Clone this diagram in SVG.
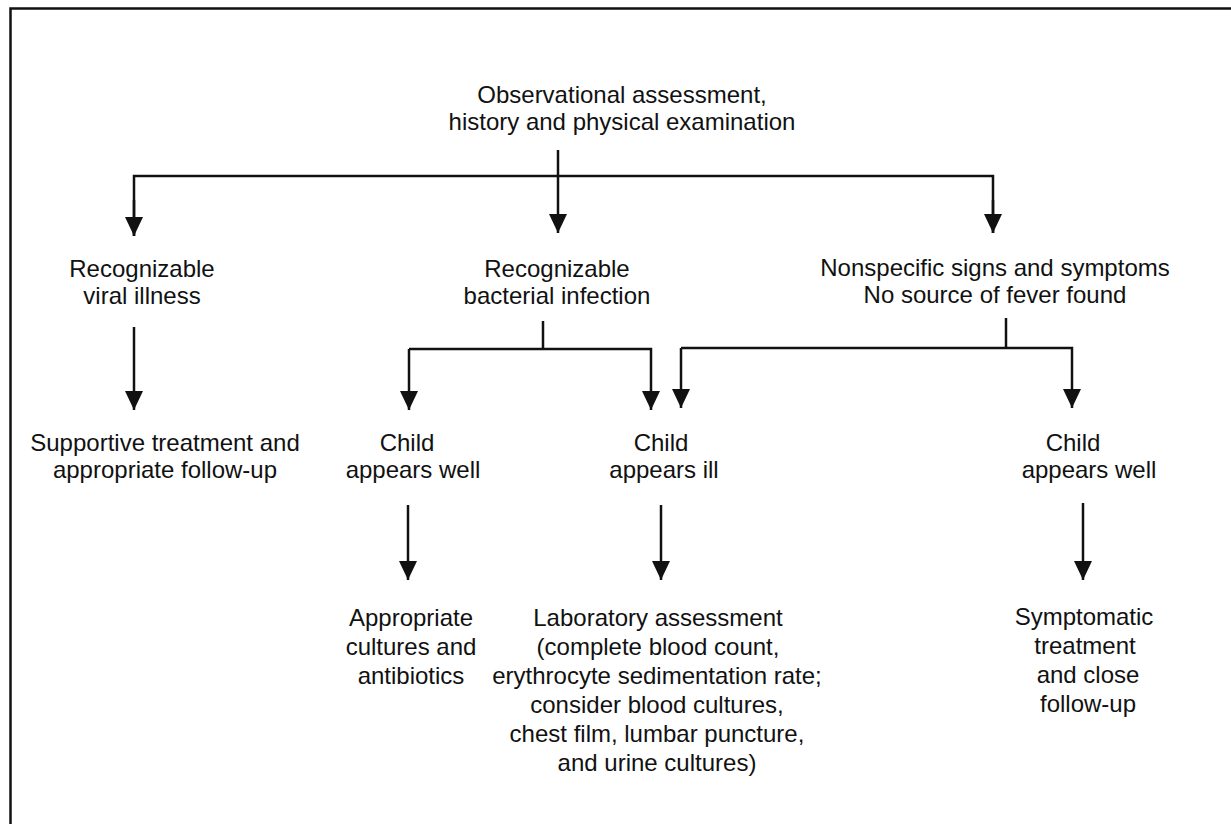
<svg xmlns="http://www.w3.org/2000/svg" width="1231" height="824" viewBox="0 0 1231 824">
<style>
text{font-family:"Liberation Sans",Arial,sans-serif;font-size:24px;fill:#111;text-anchor:middle}
.c{stroke:#111;stroke-width:2.5;fill:none}
.a{marker-end:url(#ah)}
</style>
<defs>
<marker id="ah" markerUnits="userSpaceOnUse" markerWidth="20" markerHeight="20" viewBox="0 -10 20 20" refX="19" refY="0" orient="auto">
<path d="M0,-9 L19,0 L0,9 z" fill="#111"/>
</marker>
</defs>
<rect width="1231" height="824" fill="#fff"/>
<g id="frame">
<path class="c" d="M10.5,824 V8.5 H1231"/>
</g>
<g id="connectors">
<path class="c" d="M134,236 V176 H993 V233"/>
<path class="c a" d="M134,200 V236"/>
<path class="c a" d="M993,200 V233"/>
<path class="c a" d="M558,150 V233"/>
<path class="c a" d="M134,327 V410"/>
<path class="c" d="M543,321 V349"/>
<path class="c a" d="M409,349 V410"/>
<path class="c a" d="M409,349 H651 V410"/>
<path class="c" d="M1006,318 V348"/>
<path class="c a" d="M681,348 V408"/>
<path class="c a" d="M681,348 H1072 V408"/>
<path class="c a" d="M408,505 V580"/>
<path class="c a" d="M661,505 V580"/>
<path class="c a" d="M1083,503 V580"/>
</g>
<g id="n-root"><text x="622" y="103">Observational assessment,</text><text x="622" y="130">history and physical examination</text></g>
<g id="n-viral"><text x="142" y="277">Recognizable</text><text x="142" y="304">viral illness</text></g>
<g id="n-bacterial"><text x="557" y="277">Recognizable</text><text x="557" y="304">bacterial infection</text></g>
<g id="n-nonspecific"><text x="995" y="276">Nonspecific signs and symptoms</text><text x="995" y="303">No source of fever found</text></g>
<g id="n-supportive"><text x="165" y="451">Supportive treatment and</text><text x="165" y="478">appropriate follow-up</text></g>
<g id="n-well1"><text x="407" y="451">Child</text><text x="413" y="478">appears well</text></g>
<g id="n-ill"><text x="661" y="451">Child</text><text x="664" y="478">appears ill</text></g>
<g id="n-well2"><text x="1073" y="451">Child</text><text x="1089" y="478">appears well</text></g>
<g id="n-cultures"><text x="411" y="626">Appropriate</text><text x="411" y="655">cultures and</text><text x="411" y="684">antibiotics</text></g>
<g id="n-lab"><text x="658" y="626">Laboratory assessment</text><text x="658" y="655">(complete blood count,</text><text x="657" y="684">erythrocyte sedimentation rate;</text><text x="657" y="713">consider blood cultures,</text><text x="657" y="742">chest film, lumbar puncture,</text><text x="657" y="771">and urine cultures)</text></g>
<g id="n-symptomatic"><text x="1084" y="625">Symptomatic</text><text x="1085" y="654">treatment</text><text x="1088" y="683">and close</text><text x="1088" y="712">follow-up</text></g>
</svg>
